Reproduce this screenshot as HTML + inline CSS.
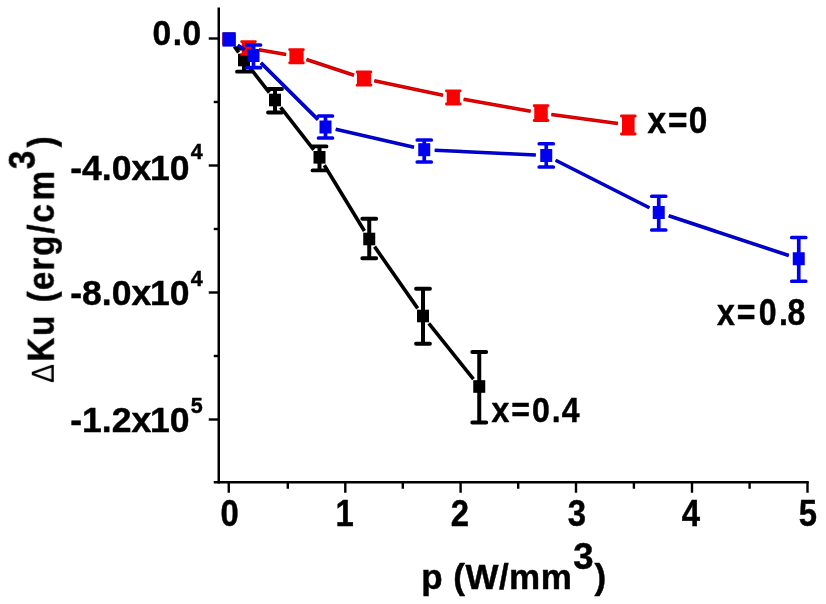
<!DOCTYPE html>
<html lang="en"><head><meta charset="utf-8"><title>ΔKu vs p</title>
<style>html,body{margin:0;padding:0;background:#fff}svg{display:block}</style></head>
<body>
<svg width="826" height="604" viewBox="0 0 826 604">
<defs><filter id="soft" x="0" y="0" width="826" height="604" filterUnits="userSpaceOnUse"><feGaussianBlur stdDeviation="0.4"/></filter></defs>
<rect width="826" height="604" fill="#fff"/>
<g filter="url(#soft)">
<g stroke="#000" stroke-width="2.5" fill="none" stroke-linecap="butt">
<path d="M218.75 7.5V483.5"/>
<path d="M213.75 482.25H808.75"/>
</g>
<g stroke="#000" stroke-width="2.4" fill="none">
<path d="M228.75 482.25v10.5"/>
<path d="M287.80 482.25v6.5"/>
<path d="M345.30 482.25v10.5"/>
<path d="M402.80 482.25v6.5"/>
<path d="M460.60 482.25v10.5"/>
<path d="M518.20 482.25v6.5"/>
<path d="M576.00 482.25v10.5"/>
<path d="M633.90 482.25v6.5"/>
<path d="M692.00 482.25v10.5"/>
<path d="M749.60 482.25v6.5"/>
<path d="M807.50 482.25v10.5"/>
<path d="M218.75 38.50h-10"/>
<path d="M218.75 102.00h-5"/>
<path d="M218.75 165.50h-10"/>
<path d="M218.75 229.00h-5"/>
<path d="M218.75 292.50h-10"/>
<path d="M218.75 356.00h-5"/>
<path d="M218.75 419.50h-10"/>
</g>
<path d="M234.41 46.57L238.59 52.43M249.70 67.35L269.30 92.65M280.70 107.35L313.80 149.95M324.34 165.24L364.41 231.06M374.57 246.63L417.68 308.37M428.80 323.27L473.45 379.23" stroke="#000000" stroke-width="3.6" fill="none"/>
<g stroke="#000000" fill="#000000" stroke-linecap="round">
<rect x="223.00" y="32.70" width="12" height="12.60" stroke="none"/>
<path d="M244.00 48.50V71.70" stroke-width="4" stroke-linecap="butt" fill="none"/>
<path d="M237.00 48.50h14M237.00 71.70h14" stroke-width="3.8" fill="none"/>
<rect x="238.00" y="53.70" width="12" height="12.60" stroke="none"/>
<path d="M275.00 89.00V112.50" stroke-width="4" stroke-linecap="butt" fill="none"/>
<path d="M268.00 89.00h14M268.00 112.50h14" stroke-width="3.8" fill="none"/>
<rect x="269.00" y="93.70" width="12" height="12.60" stroke="none"/>
<path d="M319.50 146.40V170.40" stroke-width="4" stroke-linecap="butt" fill="none"/>
<path d="M312.50 146.40h14M312.50 170.40h14" stroke-width="3.8" fill="none"/>
<rect x="313.50" y="151.00" width="12" height="12.60" stroke="none"/>
<path d="M369.25 218.75V258.25" stroke-width="4" stroke-linecap="butt" fill="none"/>
<path d="M362.25 218.75h14M362.25 258.25h14" stroke-width="3.8" fill="none"/>
<rect x="363.25" y="232.70" width="12" height="12.60" stroke="none"/>
<path d="M423.00 288.75V343.75" stroke-width="4" stroke-linecap="butt" fill="none"/>
<path d="M416.00 288.75h14M416.00 343.75h14" stroke-width="3.8" fill="none"/>
<rect x="417.00" y="309.70" width="12" height="12.60" stroke="none"/>
<path d="M479.25 352.00V422.50" stroke-width="4" stroke-linecap="butt" fill="none"/>
<path d="M472.25 352.00h14M472.25 422.50h14" stroke-width="3.8" fill="none"/>
<rect x="473.25" y="380.20" width="12" height="12.60" stroke="none"/>
</g>
<path d="M258.85 49.77L286.15 54.43M306.47 59.51L354.03 75.29M374.27 80.76L443.03 95.24M463.64 99.24L530.66 111.16M551.40 114.43L617.90 123.57" stroke="#B80000" stroke-width="3.6" fill="none"/>
<path d="M258.85 49.77L286.15 54.43M306.47 59.51L354.03 75.29M374.27 80.76L443.03 95.24M463.64 99.24L530.66 111.16M551.40 114.43L617.90 123.57" stroke="#F00000" stroke-width="1.80" fill="none"/>
<g stroke="#FA0000" fill="#FA0000" stroke-linecap="round">
<rect x="222.25" y="32.70" width="13.5" height="12.60" stroke="none"/>
<path d="M248.50 41.60V54.40" stroke-width="3" stroke-linecap="butt" fill="none"/>
<path d="M241.60 41.60h13.8M241.60 54.40h13.8" stroke-width="2.8" fill="none"/>
<rect x="241.75" y="41.60" width="13.5" height="12.80" stroke="none"/>
<path d="M296.50 49.60V62.80" stroke-width="3" stroke-linecap="butt" fill="none"/>
<path d="M289.60 49.60h13.8M289.60 62.80h13.8" stroke-width="2.8" fill="none"/>
<rect x="289.40" y="49.60" width="14.2" height="13.20" stroke="none"/>
<path d="M364.00 72.00V85.20" stroke-width="3" stroke-linecap="butt" fill="none"/>
<path d="M357.10 72.00h13.8M357.10 85.20h13.8" stroke-width="2.8" fill="none"/>
<rect x="356.90" y="72.00" width="14.2" height="13.20" stroke="none"/>
<path d="M453.30 90.80V104.00" stroke-width="3" stroke-linecap="butt" fill="none"/>
<path d="M446.40 90.80h13.8M446.40 104.00h13.8" stroke-width="2.8" fill="none"/>
<rect x="446.70" y="90.80" width="13.2" height="13.20" stroke="none"/>
<path d="M541.00 105.70V120.50" stroke-width="3" stroke-linecap="butt" fill="none"/>
<path d="M534.10 105.70h13.8M534.10 120.50h13.8" stroke-width="2.8" fill="none"/>
<rect x="534.25" y="105.70" width="13.5" height="14.80" stroke="none"/>
<path d="M628.30 116.00V134.00" stroke-width="3" stroke-linecap="butt" fill="none"/>
<path d="M621.40 116.00h13.8M621.40 134.00h13.8" stroke-width="2.8" fill="none"/>
<rect x="622.00" y="116.00" width="12.6" height="18.00" stroke="none"/>
</g>
<path d="M237.77 45.17L244.73 49.73M260.95 62.90L318.05 119.60M335.73 129.35L414.02 147.35M434.74 150.20L535.76 155.00M555.62 160.25L649.38 207.75M668.72 215.79L788.78 255.46" stroke="#0000A0" stroke-width="3.6" fill="none"/>
<path d="M237.77 45.17L244.73 49.73M260.95 62.90L318.05 119.60M335.73 129.35L414.02 147.35M434.74 150.20L535.76 155.00M555.62 160.25L649.38 207.75M668.72 215.79L788.78 255.46" stroke="#0000E8" stroke-width="1.80" fill="none"/>
<g stroke="#0000F0" fill="#0000F0" stroke-linecap="round">
<rect x="223.00" y="32.90" width="12" height="13.00" stroke="none"/>
<path d="M253.50 45.00V67.70" stroke-width="3.7" stroke-linecap="butt" fill="none"/>
<path d="M246.50 45.00h14M246.50 67.70h14" stroke-width="3.7" fill="none"/>
<rect x="247.50" y="49.00" width="12" height="13.00" stroke="none"/>
<path d="M325.50 116.00V138.00" stroke-width="3.7" stroke-linecap="butt" fill="none"/>
<path d="M318.50 116.00h14M318.50 138.00h14" stroke-width="3.7" fill="none"/>
<rect x="319.50" y="120.50" width="12" height="13.00" stroke="none"/>
<path d="M424.25 140.00V162.00" stroke-width="3.7" stroke-linecap="butt" fill="none"/>
<path d="M417.25 140.00h14M417.25 162.00h14" stroke-width="3.7" fill="none"/>
<rect x="418.25" y="143.20" width="12" height="13.00" stroke="none"/>
<path d="M546.25 143.75V167.00" stroke-width="3.7" stroke-linecap="butt" fill="none"/>
<path d="M539.25 143.75h14M539.25 167.00h14" stroke-width="3.7" fill="none"/>
<rect x="540.25" y="149.00" width="12" height="13.00" stroke="none"/>
<path d="M658.75 196.25V230.00" stroke-width="3.7" stroke-linecap="butt" fill="none"/>
<path d="M651.75 196.25h14M651.75 230.00h14" stroke-width="3.7" fill="none"/>
<rect x="652.75" y="206.00" width="12" height="13.00" stroke="none"/>
<path d="M798.75 237.50V281.25" stroke-width="3.7" stroke-linecap="butt" fill="none"/>
<path d="M791.75 237.50h14M791.75 281.25h14" stroke-width="3.7" fill="none"/>
<rect x="792.75" y="252.25" width="12" height="13.00" stroke="none"/>
</g>
<rect x="222.5" y="32.3" width="13.2" height="14.3" fill="#0000F0"/>
<g font-family="Liberation Sans, sans-serif" font-weight="700" font-size="36.5" fill="#000" stroke="#000" stroke-width="0.45" stroke-linejoin="round">
<text transform="translate(229.6 525.6) scale(0.9 1)" text-anchor="middle">0</text>
<text transform="translate(344.6 525.6) scale(0.9 1)" text-anchor="middle">1</text>
<text transform="translate(460 525.6) scale(0.9 1)" text-anchor="middle">2</text>
<text transform="translate(577 525.6) scale(0.9 1)" text-anchor="middle">3</text>
<text transform="translate(690.8 525.6) scale(0.9 1)" text-anchor="middle">4</text>
<text transform="translate(808 525.6) scale(0.9 1)" text-anchor="middle">5</text>
<text transform="translate(202.2 45.2) scale(0.945 1)" text-anchor="end" letter-spacing="1.07" font-size="35.5">0<tspan dx="0.6">.</tspan><tspan dx="-0.6">0</tspan></text>
<text transform="translate(202.8 179.8)" text-anchor="end" font-size="35.5">-4.0x<tspan dx="-1.2">10</tspan><tspan font-size="21.5" dy="-20.5" dx="1.4">4</tspan></text>
<text transform="translate(202.8 305.4)" text-anchor="end" font-size="35.5">-8.0x<tspan dx="-1.2">10</tspan><tspan font-size="21.5" dy="-19.1" dx="1.4">4</tspan></text>
<text transform="translate(202.8 432.4)" text-anchor="end" font-size="35.5">-1.2x<tspan dx="-1.2">10</tspan><tspan font-size="21.5" dy="-19.1" dx="1.4">5</tspan></text>
<text transform="translate(491.6 422) scale(0.89 1)" letter-spacing="2.2" font-size="36">x=0.<tspan dx="-1">4</tspan></text>
<text transform="translate(647.4 132.8) scale(0.89 1)" letter-spacing="1.9" font-size="37.5">x<tspan dx="0.5">=</tspan><tspan dx="-0.6">0</tspan></text>
<text transform="translate(717 324.7) scale(0.855 1)" letter-spacing="2.2" font-size="37.5">x=<tspan dx="1.6">0</tspan><tspan dx="0.6">.</tspan><tspan dx="-2.6">8</tspan></text>
<text transform="translate(421.3 589)" letter-spacing="0.45" font-size="35">p (W/mm<tspan dy="-19.9" dx="1" font-size="36.5">3</tspan><tspan dy="19.9" dx="0.5">)</tspan></text>
<text transform="translate(53.8 383) rotate(-90) scale(0.91 1)" letter-spacing="2.1"><tspan font-size="31" font-weight="400" stroke-width="0" dx="0">Δ</tspan><tspan dx="0.6">K</tspan>u (<tspan dx="-0.6">e</tspan><tspan dx="-1.1">r</tspan>g/c<tspan dx="1.8">m</tspan><tspan dy="-19.5">3</tspan><tspan dy="19.5" dx="1.5">)</tspan></text>
</g>
</g>
</svg>
</body></html>
